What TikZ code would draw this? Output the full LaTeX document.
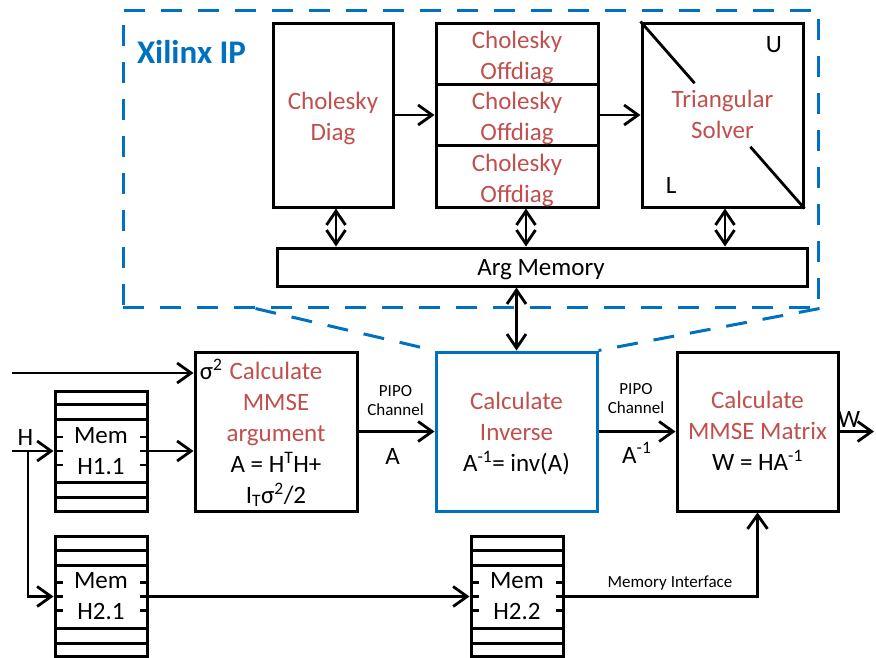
\documentclass[tikz,border=0pt]{standalone}
\usepackage{fontspec}
\setmainfont{Carlito}
\usetikzlibrary{arrows.meta,calc}
\definecolor{ipred}{HTML}{C0504D}
\definecolor{ipblue}{HTML}{0070C0}
\tikzset{
  blk/.style={draw, line width=3pt, inner sep=0pt},
  lbl/.style={font=\fontsize{25}{31}\selectfont, align=center, inner sep=0pt},
  redlbl/.style={lbl, text=ipred},
  note/.style={font=\fontsize{17}{19}\selectfont, align=center, inner sep=0pt},
  wire/.style={line width=2.8pt},
  arr/.style={wire, -{Straight Barb[length=14pt,width=20pt]}},
  darr/.style={wire, {Straight Barb[length=14pt,width=19pt]}-{Straight Barb[length=14pt,width=19pt]}},
  ipline/.style={draw=ipblue, line width=3pt, dash pattern=on 21pt off 16pt},
  mem/.style={blk, minimum width=92pt, minimum height=120pt, lbl},
}
% memory stack: name, centre, text
\newcommand\MemStack[3]{%
  \node[mem] (#1) at (#2) {#3};
  \foreach \dy in {15,30} {
    \draw[line width=3pt] ([yshift=-\dy pt]#1.north west) -- ([yshift=-\dy pt]#1.north east);
    \draw[line width=3pt] ([yshift=\dy pt]#1.south west) -- ([yshift=\dy pt]#1.south east);
  }
  \foreach \dy in {-14,0,14} {
    \draw[line width=2.6pt] ([yshift=\dy pt]#1.west) -- ++(9pt,0pt);
    \draw[line width=2.6pt] ([yshift=\dy pt]#1.east) -- ++(-9pt,0pt);
  }%
}
\begin{document}
\begin{tikzpicture}[x=1pt,y=-1pt]
\useasboundingbox (0,0) rectangle (876,657);
\fill[white] (0,0) rectangle (876,657);

% ---- Xilinx IP core ----
\node[ipline, minimum width=695pt, minimum height=297pt, inner sep=0pt] (ip) at (470.5,158.5) {};
\node[font=\fontsize{33}{36}\selectfont\bfseries, text=ipblue, anchor=base, inner sep=0pt] (iptitle) at (191.5,63) {Xilinx IP};

\node[blk, minimum width=120pt, minimum height=184pt] (diag) at (333,115) {};
\node[redlbl] (diagtxt) at (333,118) {Cholesky\\Diag};

\node[blk, minimum width=162pt, minimum height=61.33pt] (off1) at (517,53.67) {};
\node[blk, minimum width=162pt, minimum height=61.33pt] (off2) at (517,115) {};
\node[blk, minimum width=162pt, minimum height=61.33pt] (off3) at (517,176.33) {};
\node[redlbl] (off1txt) at (517,57) {Cholesky\\Offdiag};
\node[redlbl] (off2txt) at (517,118) {Cholesky\\Offdiag};
\node[redlbl] (off3txt) at (517,180) {Cholesky\\Offdiag};

\node[blk, minimum width=161pt, minimum height=184pt] (tri) at (722.5,115) {};
\node[redlbl] (tritxt) at (722.5,114.25) {Triangular\\Solver};
\draw[wire] (tri.north west) -- ($(tri.north west)!0.33!(tri.south east)$);
\draw[wire] ($(tri.north west)!0.67!(tri.south east)$) -- (tri.south east);
\node[lbl, anchor=base] (triU) at (774,52) {U};
\node[lbl, anchor=base] (triL) at (671,193) {L};

\node[blk, minimum width=530pt, minimum height=38pt] (argmem) at (542,267) {};
\node[lbl] (argmemtxt) at (541,269.5) {Arg Memory};

\draw[arr] (diag.east) -- (off2.west);
\draw[arr] (off2.east) -- (tri.west);
\coordinate (dA) at ([xshift=3pt]diag.south);
\coordinate (dB) at ([xshift=9pt]off3.south);
\coordinate (dC) at ([xshift=2.5pt]tri.south);
\draw[darr] (dA) -- (dA |- argmem.north);
\draw[darr] (dB) -- (dB |- argmem.north);
\draw[darr] (dC) -- (dC |- argmem.north);

% ---- processing chain ----
\node[blk, minimum width=161pt, minimum height=159pt] (inv) at (516.5,431.5) {};
\draw[ipline] ([xshift=134pt]ip.south west) -- (inv.north west);
\draw[ipline] (ip.south east) -- (inv.north east);
\node[blk, draw=ipblue, fill=white, minimum width=161pt, minimum height=159pt] (inv) at (516.5,431.5) {};
\draw[darr] (inv.north |- argmem.south) -- (inv.north);

\node[blk, minimum width=162pt, minimum height=159pt] (arg) at (276,431.5) {};
\node[blk, minimum width=161pt, minimum height=159pt] (mat) at (757.5,431.5) {};

\node[lbl] (argtxt) at (276,432.75) {\textcolor{ipred}{\llap{\textcolor{black}{σ\textsuperscript{2}}\hspace{7pt}}Calculate}\\\textcolor{ipred}{MMSE}\\\textcolor{ipred}{argument}\\A = H\textsuperscript{T}H+\\I\textsubscript{T}σ\textsuperscript{2}/2};
\node[lbl] (invtxt) at (516.5,433.75) {\textcolor{ipred}{Calculate}\\\textcolor{ipred}{Inverse}\\A\textsuperscript{-1}= inv(A)};
\node[lbl] (mattxt) at (757.5,430.75) {\textcolor{ipred}{Calculate}\\\textcolor{ipred}{MMSE Matrix}\\W = HA\textsuperscript{-1}};

\MemStack{h11}{101,451}{Mem\\H1.1}
\MemStack{h21}{101,596.5}{Mem\\H2.1}
\MemStack{h22}{517,596.5}{Mem\\H2.2}

% ---- connectors ----
\coordinate (sig) at (12,373);
\draw[arr] (sig) -- (sig -| arg.west);
\coordinate (hin) at (12,451);
\draw[arr] (hin) -- (h11.west);
\coordinate (hsplit) at (28,451);
\draw[arr] (hsplit) |- (h21.west);
\draw[arr] (h11.east) -- (h11.east -| arg.west);
\draw[arr] (arg.east) -- (inv.west);
\draw[arr] (inv.east) -- (mat.west);
\coordinate (wout) at (874,431.5);
\draw[arr] (mat.east) -- (wout);
\draw[arr] (h21.east) -- (h22.west);
\draw[arr] (h22.east) -| (mat.south);

% ---- labels ----
\node[lbl, anchor=base] (hlbl) at (25.5,445) {H};
\node[note] (pipo1) at (395.5,401) {PIPO\\Channel};
\node[lbl, anchor=base] (alab) at (392.5,464) {A};
\node[note] (pipo2) at (636,399) {PIPO\\Channel};
\node[lbl, anchor=base west] (ainv) at (622,463) {A\textsuperscript{-1}};
\node[lbl, anchor=base] (wlbl) at (849,427) {W};
\node[note, anchor=base] (memif) at (670,587) {Memory Interface};
\end{tikzpicture}
\end{document}
